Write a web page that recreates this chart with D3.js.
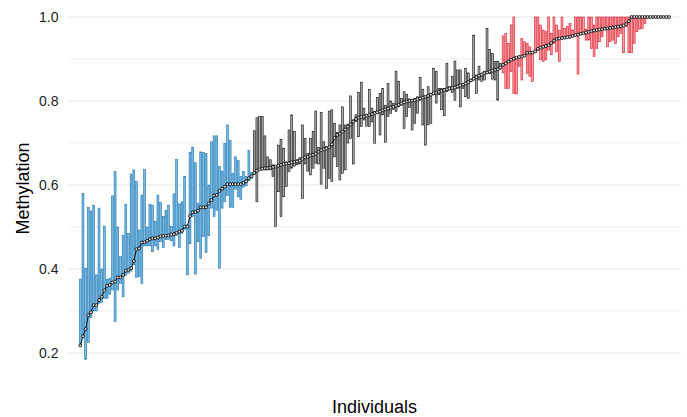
<!DOCTYPE html>
<html>
<head>
<meta charset="utf-8">
<script src="https://cdn.jsdelivr.net/npm/d3@7"></script>
<style>
  html, body { margin: 0; padding: 0; background: #ffffff; }
  svg { display: block; }
</style>
</head>
<body>
<div id="chart"></div>
<script>
// ---------- data ----------
const groups = ["low", "mid", "high"];
const yTicks = [0.2, 0.4, 0.6, 0.8, 1.0];
const yMinorTicks = [0.3, 0.5, 0.7, 0.9];
const yTitle = "Methylation";
const xTitle = "Individuals";

const lowMean = [0.218,0.240,0.257,0.290,0.297,0.314,0.314,0.326,0.334,0.349,0.360,0.362,0.368,0.370,0.380,0.380,0.386,0.396,0.398,0.402,0.419,0.447,0.449,
  0.463,0.464,0.467,0.471,0.473,0.473,0.475,0.478,0.479,0.479,0.480,0.482,0.483,0.486,0.489,0.491,0.501,0.501,0.526,0.535,0.536,0.539,0.547,
  0.547,0.547,0.556,0.564,0.575,0.576,0.586,0.591,0.596,0.602,0.602,0.602,0.602,0.602,0.602,0.605,0.609,0.616,0.621];
const lowMin = [0.215,0.236,0.185,0.225,0.285,0.300,0.300,0.318,0.320,0.330,0.330,0.340,0.350,0.275,0.350,0.365,0.334,0.385,0.390,0.395,0.410,0.380,0.382,
  0.366,0.455,0.455,0.455,0.441,0.455,0.447,0.465,0.451,0.470,0.470,0.467,0.455,0.480,0.451,0.485,0.495,0.386,0.460,0.525,0.388,0.465,0.425,
  0.477,0.439,0.479,0.545,0.525,0.540,0.402,0.545,0.560,0.575,0.547,0.547,0.590,0.572,0.566,0.595,0.598,0.610,0.615];
const lowMax = [0.376,0.580,0.402,0.547,0.538,0.552,0.386,0.545,0.400,0.502,0.376,0.377,0.574,0.632,0.500,0.430,0.480,0.554,0.485,0.626,0.636,0.608,0.493,
  0.576,0.637,0.500,0.554,0.552,0.513,0.576,0.558,0.525,0.540,0.552,0.501,0.579,0.661,0.555,0.560,0.620,0.505,0.678,0.690,0.653,0.556,0.679,
  0.677,0.675,0.600,0.703,0.717,0.717,0.644,0.633,0.699,0.743,0.706,0.628,0.667,0.658,0.620,0.632,0.620,0.682,0.630];

const midMean = [0.629,0.634,0.637,0.639,0.640,0.640,0.641,0.643,0.644,0.646,0.648,0.650,0.651,0.652,0.654,0.655,0.656,0.658,0.662,0.666,
  0.667,0.670,0.672,0.675,0.679,0.683,0.685,0.687,0.690,0.697,0.712,0.719,0.722,0.727,0.732,0.739,0.744,0.751,0.757,0.760,
  0.762,0.763,0.765,0.767,0.769,0.771,0.773,0.775,0.778,0.780,0.782,0.784,0.786,0.789,0.791,0.794,0.797,0.799,0.800,0.801,
  0.802,0.804,0.806,0.808,0.810,0.812,0.815,0.818,0.820,0.822,0.824,0.826,0.828,0.830,0.831,0.832,0.835,0.837,0.839,0.842,
  0.845,0.849,0.853,0.857,0.860,0.863,0.866,0.868,0.870,0.872,0.874,0.876,0.880];
const midMin = [0.625,0.560,0.636,0.636,0.636,0.636,0.636,0.620,0.501,0.584,0.525,0.572,0.596,0.632,0.640,0.645,0.648,0.650,0.568,0.650,
  0.633,0.624,0.640,0.652,0.650,0.602,0.640,0.592,0.616,0.608,0.667,0.644,0.612,0.628,0.636,0.700,0.711,0.650,0.751,0.715,
  0.739,0.755,0.740,0.739,0.750,0.699,0.770,0.719,0.767,0.702,0.763,0.770,0.780,0.775,0.786,0.790,0.735,0.763,0.785,0.731,
  0.747,0.771,0.802,0.743,0.695,0.743,0.747,0.815,0.795,0.815,0.779,0.765,0.822,0.826,0.820,0.802,0.830,0.786,0.830,0.810,
  0.806,0.846,0.850,0.818,0.850,0.846,0.850,0.866,0.865,0.852,0.850,0.802,0.876];
const midMax = [0.729,0.760,0.763,0.763,0.717,0.667,0.660,0.648,0.646,0.695,0.709,0.687,0.655,0.731,0.767,0.727,0.660,0.665,0.743,0.711,
  0.675,0.711,0.727,0.776,0.690,0.773,0.703,0.691,0.776,0.779,0.747,0.725,0.743,0.786,0.743,0.745,0.812,0.755,0.767,0.820,
  0.845,0.783,0.767,0.828,0.783,0.775,0.808,0.818,0.830,0.790,0.842,0.800,0.795,0.871,0.846,0.806,0.822,0.816,0.805,0.802,
  0.806,0.810,0.856,0.828,0.812,0.834,0.818,0.878,0.870,0.830,0.830,0.830,0.890,0.834,0.858,0.895,0.874,0.874,0.842,0.878,
  0.867,0.852,0.957,0.862,0.883,0.866,0.870,0.973,0.923,0.913,0.894,0.894,0.890];

const highMean = [0.886,0.890,0.894,0.898,0.901,0.903,0.905,0.906,0.908,0.915,0.915,0.915,0.918,0.924,0.927,0.929,0.931,0.933,0.938,0.944,
  0.948,0.949,0.950,0.951,0.952,0.953,0.955,0.957,0.958,0.960,0.961,0.963,0.965,0.966,0.968,0.969,0.970,0.971,0.972,0.973,
  0.974,0.975,0.976,0.977,0.978,0.980,0.983,0.990,1,1,1,1,1,1,1,1,1,1,1,1,1,1,1];
const highMin = [0.867,0.830,0.830,0.870,0.818,0.817,0.882,0.850,0.906,0.866,0.858,0.846,0.915,0.920,0.898,0.894,0.898,0.921,0.910,0.937,
  0.917,0.894,0.948,0.948,0.950,0.950,0.952,0.955,0.864,0.958,0.958,0.945,0.945,0.925,0.906,0.925,0.941,0.953,0.970,0.929,
  0.941,0.945,0.937,0.953,0.961,0.915,0.977,0.915,0.915,0.937,0.965,0.971,0.973,0.985,0.997,1,1,1,1,1,1,1,1];
const highMax = [0.955,0.961,0.937,0.981,1,0.905,0.906,0.949,0.941,0.937,0.929,0.917,1,1,0.981,0.969,0.965,1,0.961,1,
  0.981,0.969,1,0.973,0.977,0.985,0.969,1,1,1,1,0.971,1,1,0.981,1,1,1,1,1,
  1,1,1,1,1,1,1,1,1,1,1,1,1,1,1,1,1,1,1,1,1,1,1];

// ---------- build rows ----------
const seriesByGroup = {
  low:  {mean: lowMean,  min: lowMin,  max: lowMax},
  mid:  {mean: midMean,  min: midMin,  max: midMax},
  high: {mean: highMean, min: highMin, max: highMax}
};
const rows = [];
groups.forEach(g => {
  const s = seriesByGroup[g];
  s.mean.forEach((m, k) => rows.push({group: g, mean: m, min: s.min[k], max: s.max[k]}));
});
rows.forEach((d, i) => d.idx = i);

// ---------- chart ----------
const W = 687, H = 417;
const panel = {left: 68, right: 681, top: 0, bottom: 377};
const FONT = "'Liberation Sans', Arial, Helvetica, sans-serif";

const svg = d3.select("#chart").append("svg").attr("width", W).attr("height", H);

const x = d3.scaleLinear().domain([0, rows.length - 1]).range([80.3, 669]);
const y = d3.scaleLinear().domain([0.2, 1.0]).range([353, 17]);

const fills = d3.scaleOrdinal().domain(groups).range(["#7ab8e0", "#ababab", "#f39fa3"]);
const strokes = d3.scaleOrdinal().domain(groups).range(["#1f78b4", "#111111", "#de1a2c"]);

// grid
const grid = svg.append("g");
grid.selectAll("line.minor").data(yMinorTicks).join("line")
  .attr("class", "minor")
  .attr("x1", panel.left).attr("x2", panel.right)
  .attr("y1", d => y(d)).attr("y2", d => y(d))
  .attr("stroke", "#ebebeb").attr("stroke-width", 0.8);
grid.selectAll("line.major").data(yTicks).join("line")
  .attr("class", "major")
  .attr("x1", panel.left).attr("x2", panel.right)
  .attr("y1", d => y(d)).attr("y2", d => y(d))
  .attr("stroke", "#e6e6e6").attr("stroke-width", 1.1);

// y axis labels via d3 axis
const yAxis = d3.axisLeft(y).tickValues(yTicks).tickFormat(d3.format(".1f")).tickSize(0).tickPadding(0);
const ya = svg.append("g").attr("transform", "translate(58.5,0)").call(yAxis);
ya.select(".domain").remove();
ya.selectAll("text")
  .attr("font-family", FONT)
  .attr("font-size", 14)
  .attr("fill", "#1e1e1e");

// bars
const bw = 1.9;
svg.append("g").selectAll("rect").data(rows.filter(d => d.max > d.min)).join("rect")
  .attr("x", d => x(d.idx) - bw / 2)
  .attr("width", bw)
  .attr("y", d => y(d.max))
  .attr("height", d => Math.max(0.01, y(d.min) - y(d.max)))
  .attr("fill", d => fills(d.group))
  .attr("stroke", d => strokes(d.group))
  .attr("stroke-width", 0.6);

// mean line
const line = d3.line().x(d => x(d.idx)).y(d => y(d.mean));
svg.append("path").datum(rows)
  .attr("d", line)
  .attr("fill", "none")
  .attr("stroke", "#000")
  .attr("stroke-width", 0.9);

// points
svg.append("g").selectAll("circle").data(rows).join("circle")
  .attr("cx", d => x(d.idx))
  .attr("cy", d => y(d.mean))
  .attr("r", 1.5)
  .attr("fill", "#cfcfcf")
  .attr("stroke", "#000")
  .attr("stroke-width", 0.75);

// titles
svg.append("text")
  .attr("x", (panel.left + panel.right) / 2)
  .attr("y", 413)
  .attr("text-anchor", "middle")
  .attr("font-family", FONT)
  .attr("font-size", 18)
  .attr("fill", "#000")
  .text(xTitle);

svg.append("text")
  .attr("transform", `translate(29,${(panel.top + panel.bottom) / 2}) rotate(-90)`)
  .attr("text-anchor", "middle")
  .attr("font-family", FONT)
  .attr("font-size", 18)
  .attr("fill", "#000")
  .text(yTitle);
</script>
</body>
</html>
